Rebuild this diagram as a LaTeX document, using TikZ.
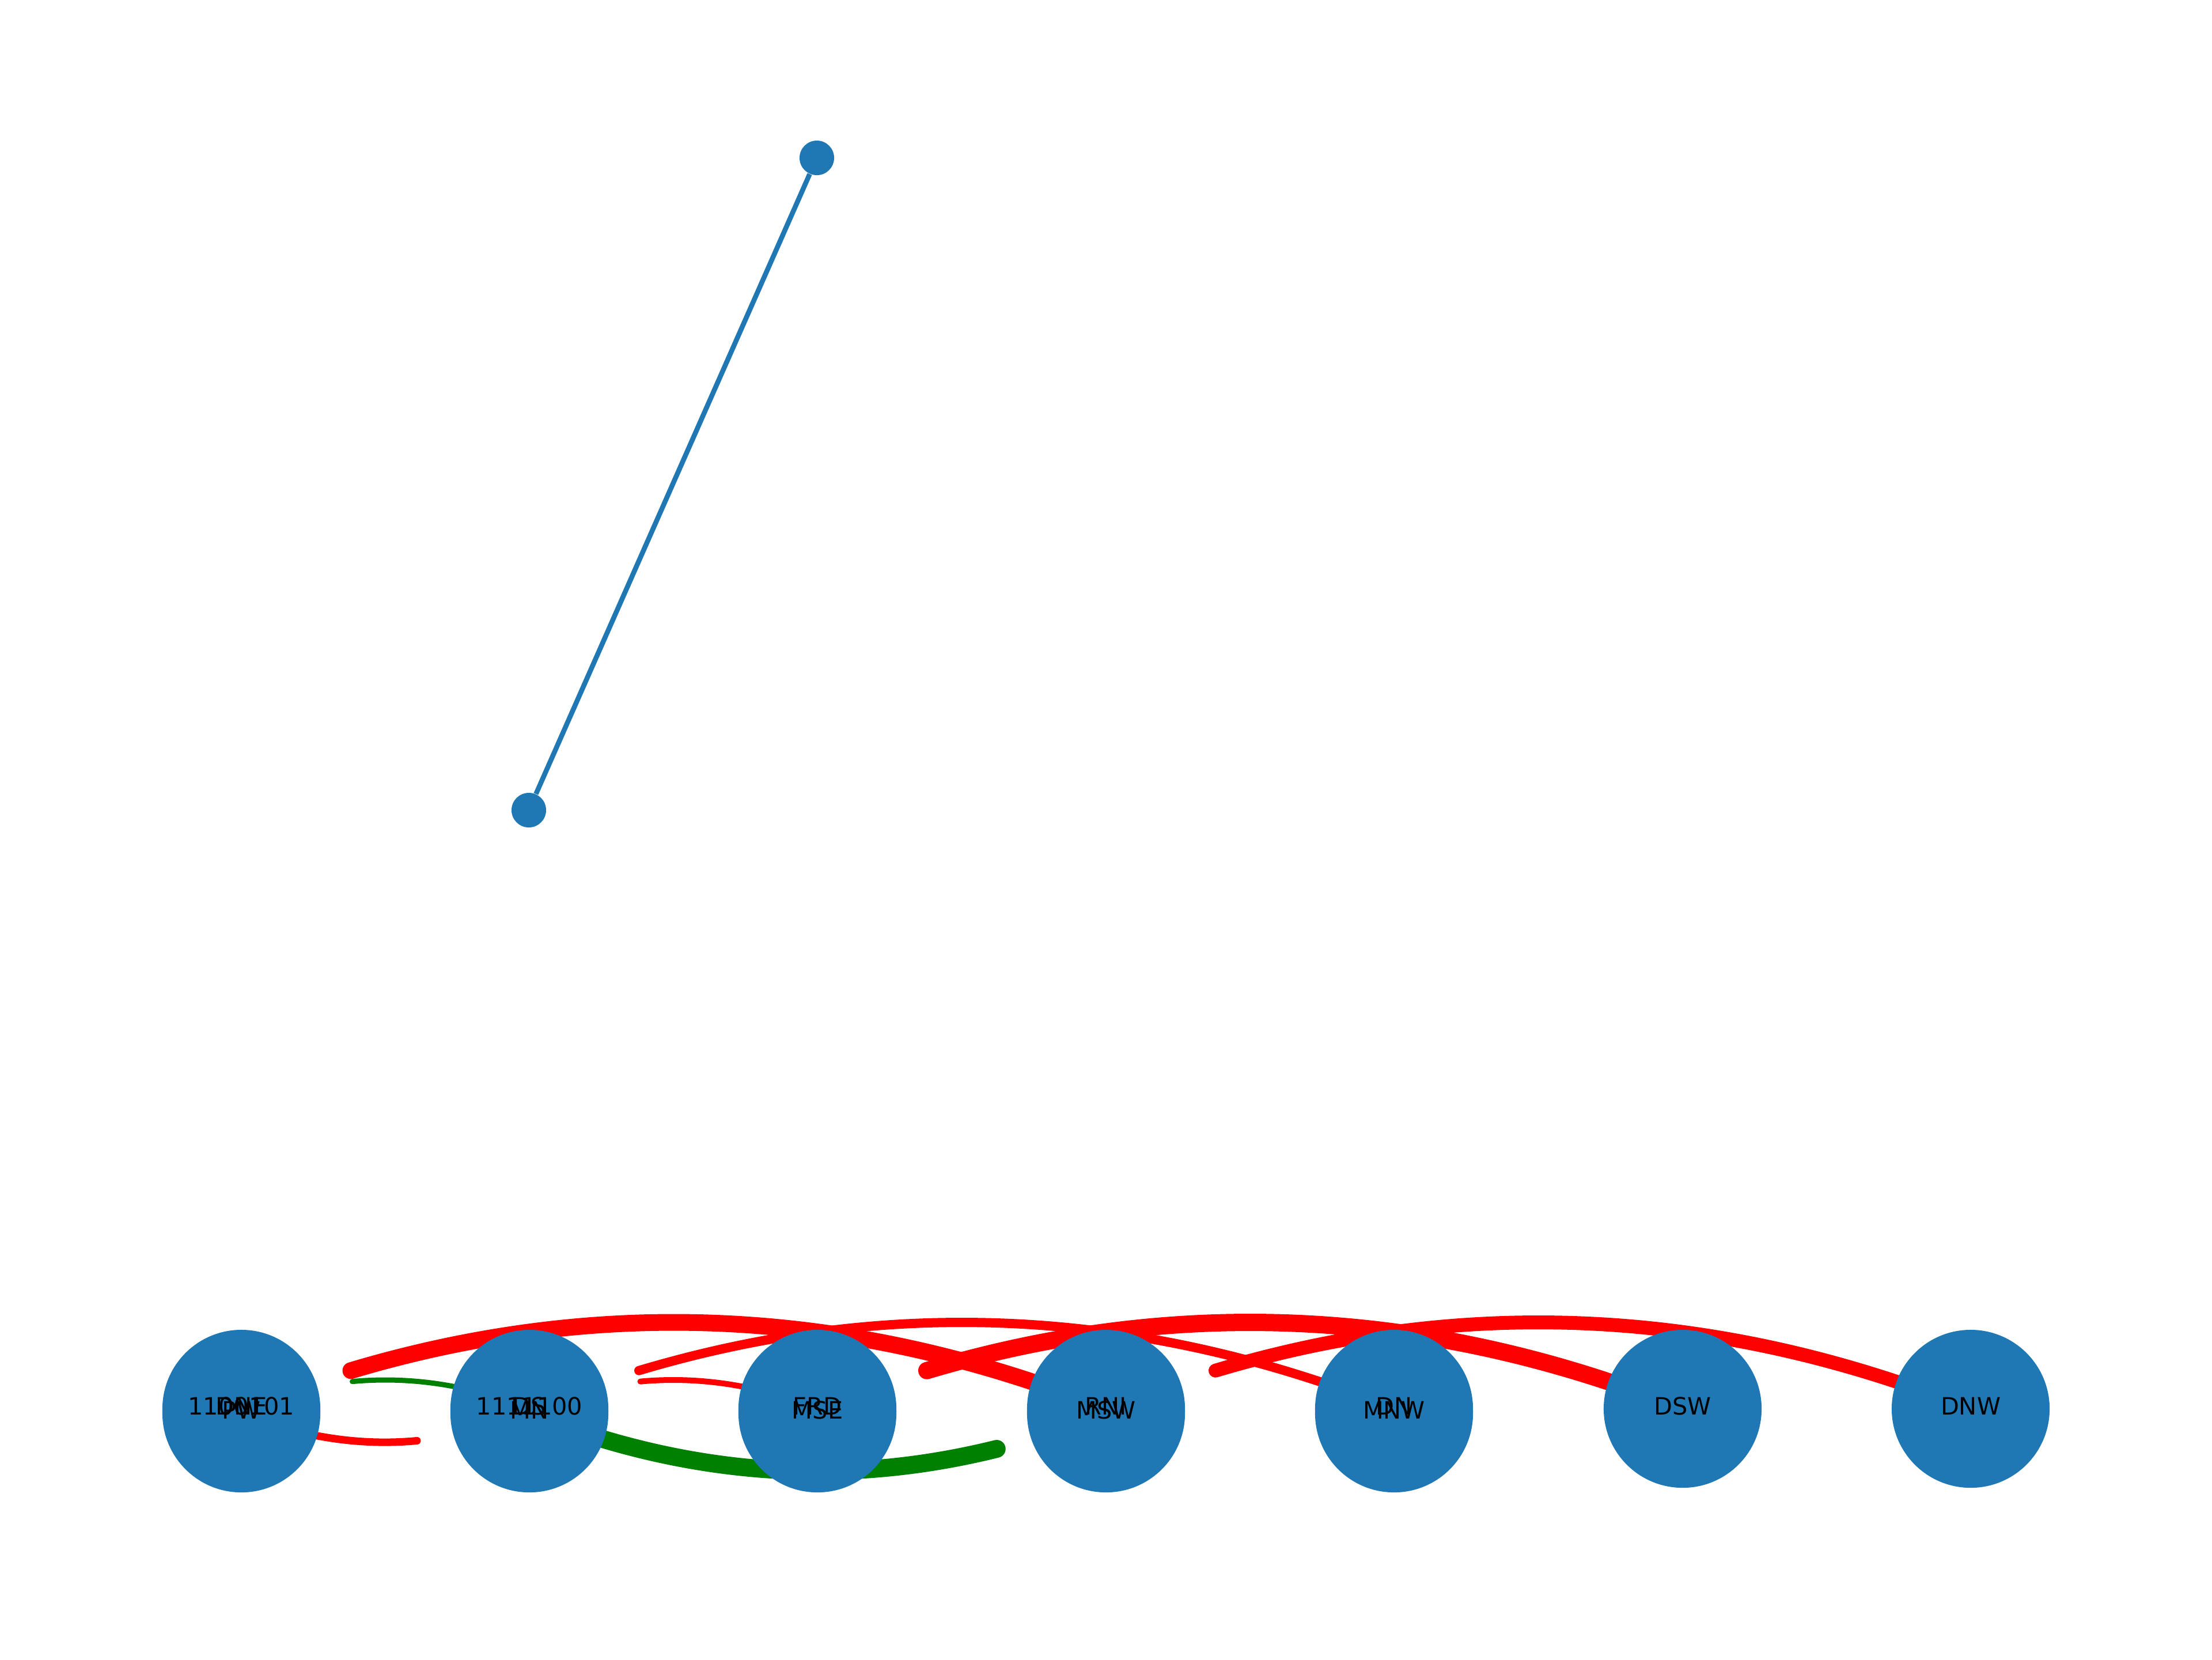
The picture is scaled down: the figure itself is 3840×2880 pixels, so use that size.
\documentclass[tikz,border=0pt]{standalone}
\usepackage{fontspec}
\newfontfamily\labfontfam{DejaVu Sans}
\newcommand\labfont{\labfontfam\fontsize{11.8pt}{14pt}\selectfont}
\usetikzlibrary{calc}
\definecolor{mplblue}{RGB}{31,119,180}
\definecolor{mplgreen}{RGB}{0,128,0}
\begin{document}
\begin{tikzpicture}[x=0.01cm, y=-0.01cm,
  bignode/.style={circle, fill=mplblue, draw=none, minimum size=2.74cm, inner sep=0pt},
  smallnode/.style={circle, fill=mplblue, draw=none, minimum size=0.6cm, inner sep=0pt},
  lab/.style={font=\labfont, anchor=base, inner sep=0pt, text=black},
  redge/.style={draw=red, line cap=round},
  gedge/.style={draw=mplgreen, line cap=round},
  bedge/.style={draw=mplblue, line width=0.085cm}
]
\fill[white] (0,0) rectangle (3840,2880);
\useasboundingbox (0,0) rectangle (3840,2880);

% node centres
\coordinate (c1) at (419,2445);
\coordinate (c2) at (919,2445);
\coordinate (c3) at (1419,2445);
\coordinate (c4) at (1920,2445);
\coordinate (c5) at (2420,2445);
\coordinate (c6) at (2921,2445);
\coordinate (c7) at (3421,2445);
\coordinate (d1) at (419,2453);
\coordinate (d2) at (919,2453);
\coordinate (d3) at (1419,2453);
\coordinate (d4) at (1920,2453);
\coordinate (d5) at (2420,2453);

% top small graph
\node[smallnode] (S1) at (918,1406) {};
\node[smallnode] (S2) at (1418,274) {};
\draw[bedge] (S1) -- (S2);

% long red arcs (upper graph)
\coordinate (a0) at ($(c1)+(190,-66.3)$);
\draw[redge, line width=0.29cm] (a0) .. controls ($(c1)+(627,-196.8)$) and ($(c4)+(-437,-174.7)$) .. (c4);
\coordinate (b0) at ($(c2)+(190,-66.3)$);
\draw[redge, line width=0.16cm] (b0) .. controls ($(c2)+(627,-196.8)$) and ($(c5)+(-437,-174.7)$) .. (c5);
\coordinate (e0) at ($(c3)+(190,-66.3)$);
\draw[redge, line width=0.30cm] (e0) .. controls ($(c3)+(627,-196.8)$) and ($(c6)+(-437,-174.7)$) .. (c6);
\coordinate (f0) at ($(c4)+(190,-66.3)$);
\draw[redge, line width=0.24cm] (f0) .. controls ($(c4)+(627,-196.8)$) and ($(c7)+(-437,-174.7)$) .. (c7);

% short arcs
\coordinate (g0) at ($(c1)+(192.5,-47.4)$);
\draw[gedge, line width=0.09cm] (g0) .. controls ($(c1)+(295,-56.8)$) and ($(c2)+(-102.5,-41)$) .. (c2);
\coordinate (h0) at ($(c2)+(192.5,-47.4)$);
\draw[redge, line width=0.10cm] (h0) .. controls ($(c2)+(295,-56.8)$) and ($(c3)+(-102.5,-41)$) .. (c3);
\coordinate (i0) at ($(d2)+(-195,47.4)$);
\draw[redge, line width=0.13cm] (i0) .. controls ($(d2)+(-295,56.8)$) and ($(d1)+(102.5,41)$) .. (d1);
\coordinate (j0) at ($(d4)+(-189.8,61.5)$);
\draw[gedge, line width=0.31cm] (j0) .. controls ($(d4)+(-460.2,128.6)$) and ($(d2)+(270.4,108.1)$) .. (d2);

% circles
\node[bignode] (U1) at (c1) {};
\node[bignode] (U2) at (c2) {};
\node[bignode] (U3) at (c3) {};
\node[bignode] (U4) at (c4) {};
\node[bignode] (U5) at (c5) {};
\node[bignode] (U6) at (c6) {};
\node[bignode] (U7) at (c7) {};
\node[bignode] (L1) at (d1) {};
\node[bignode] (L2) at (d2) {};
\node[bignode] (L3) at (d3) {};
\node[bignode] (L4) at (d4) {};
\node[bignode] (L5) at (d5) {};

% labels
\node[lab] (tn1) at (419,2455) {1100101};
\node[lab] (tn2) at (919,2455) {1111100};
\node[lab] (tu1) at (419,2455) {DNE};
\node[lab] (tu2) at (919,2455) {DS};
\node[lab] (tu3) at (1419,2455) {FRD};
\node[lab] (tu4) at (1920,2455) {RNI};
\node[lab] (tu5) at (2420,2455) {DN};
\node[lab] (tu6) at (2921,2455) {DSW};
\node[lab] (tu7) at (3421,2455) {DNW};
\node[lab] (tl1) at (419,2462) {PW};
\node[lab] (tl2) at (919,2462) {MN};
\node[lab] (tl3) at (1419,2462) {MSE};
\node[lab] (tl4) at (1920,2462) {MSW};
\node[lab] (tl5) at (2420,2462) {MNW};
\end{tikzpicture}
\end{document}
